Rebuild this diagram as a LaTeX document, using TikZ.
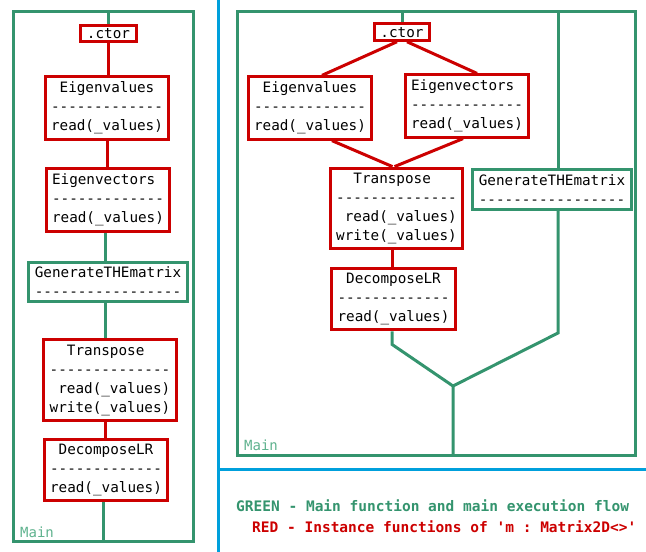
\documentclass[tikz,border=0pt]{standalone}
\usepackage{fontspec}
\setmonofont{DejaVu Sans Mono}
\usepackage{tikz}
\usetikzlibrary{positioning,calc}
\definecolor{flowgreen}{RGB}{52,148,110}
\definecolor{labelgreen}{RGB}{95,178,142}
\definecolor{instred}{RGB}{204,0,0}
\definecolor{splitblue}{RGB}{0,160,220}
\newcommand{\boxfont}{\ttfamily\fontsize{14.3}{19}\selectfont}
\newcommand{\blank}{\hphantom{x}}
\tikzset{
  fn/.style={line width=3pt,fill=white,inner xsep=6pt,inner ysep=5pt,align=left,font=\boxfont},
  redfn/.style={fn,draw=instred},
  greenfn/.style={fn,draw=flowgreen},
  ctorfn/.style={redfn,inner ysep=3pt,text height=10.5pt,text depth=0pt},
  redflow/.style={draw=instred,line width=3pt},
  greenflow/.style={draw=flowgreen,line width=3pt}
}

\begin{document}
\begin{tikzpicture}[x=1pt,y=-1pt]
        \useasboundingbox (0,0) rectangle (646,552);
        % panels
        \draw[splitblue,line width=3pt] (218,0) -- (218,552);
        \draw[splitblue,line width=3pt] (218,469) -- (646,469);
        \draw[greenflow] (13.5,11.5) rectangle (193.5,541.5);
        \draw[greenflow] (237.5,11.5) rectangle (635.5,455.5);
        \node[font=\ttfamily\fontsize{14}{16}\selectfont,text=labelgreen,anchor=south west,inner sep=0pt] (lmain) at (20,538) {Main};
        \node[font=\ttfamily\fontsize{14}{16}\selectfont,text=labelgreen,anchor=south west,inner sep=0pt] (rmain) at (244,451) {Main};
        % left: sequential
        \node[ctorfn] (lctor) at (108.5,33.5) {.ctor};
        \node[redfn] (leigval) at (107,108) {\blank Eigenvalues\\-------------\\read(\_values)};
        \node[redfn] (leigvec) at (108,200) {Eigenvectors\\-------------\\read(\_values)};
        \node[greenfn] (lgen) at (108,282) {GenerateTHEmatrix\\-----------------};
        \node[redfn] (ltrans) at (110,380) {\blank\blank Transpose\\--------------\\\blank read(\_values)\\write(\_values)};
        \node[redfn] (ldecomp) at (106,470) {\blank DecomposeLR\\-------------\\read(\_values)};
        \coordinate (ltop) at (108.5,11.5);
        \coordinate (lbottom) at (103,541.5);
        \draw[greenflow] (ltop) -- (lctor.north);
        \draw[redflow] (lctor.south) -- (lctor.south |- leigval.north);
        \draw[redflow] (leigval.south) -- (leigval.south |- leigvec.north);
        \draw[greenflow] ([xshift=-3pt]leigvec.south) -- ([xshift=-3pt]leigvec.south |- lgen.north);
        \draw[greenflow] ([xshift=-3pt]lgen.south) -- ([xshift=-3pt]lgen.south |- ltrans.north);
        \draw[redflow] ([xshift=-5pt]ltrans.south) -- ([xshift=-5pt]ltrans.south |- ldecomp.north);
        \draw[greenflow] (lbottom |- ldecomp.south) -- (lbottom);
        % right: parallel
        \node[ctorfn] (rctor) at (402,32) {.ctor};
        \node[redfn] (reigval) at (310,108) {\blank Eigenvalues\\-------------\\read(\_values)};
        \node[redfn] (reigvec) at (467,106) {Eigenvectors\\-------------\\read(\_values)};
        \node[redfn] (rtrans) at (396.5,208.5) {\blank\blank Transpose\\--------------\\\blank read(\_values)\\write(\_values)};
        \node[greenfn] (rgen) at (552,189.5) {GenerateTHEmatrix\\-----------------};
        \node[redfn] (rdecomp) at (393.5,299) {\blank DecomposeLR\\-------------\\read(\_values)};
        \coordinate (rtop) at (402,11.5);
        \coordinate (rsplit) at (558,11.5);
        \coordinate (rjoin) at (453,386);
        \coordinate (rbottom) at (453,455.5);
        \draw[greenflow] (rtop) -- (rctor.north);
        \draw[greenflow] (rsplit) -- (rsplit |- rgen.north);
        \draw[redflow] ([xshift=-5pt]rctor.south) -- ([xshift=12pt]reigval.north);
        \draw[redflow] ([xshift=5pt]rctor.south) -- ([xshift=10pt]reigvec.north);
        \draw[redflow] ([xshift=22pt]reigval.south) -- ([xshift=-4pt]rtrans.north);
        \draw[redflow] ([xshift=-4pt]reigvec.south) -- ([xshift=-2pt]rtrans.north);
        \draw[redflow] ([xshift=-4.5pt]rtrans.south) -- ([xshift=-4.5pt]rtrans.south |- rdecomp.north);
        \draw[greenflow] ([xshift=-1.5pt]rdecomp.south) -- ++(0,13) -- (rjoin) -- (rbottom);
        \draw[greenflow] (rsplit |- rgen.south) -- (558,333) -- (rjoin);
        % legend
        \node[font=\ttfamily\bfseries\fontsize{14.5}{17}\selectfont,text=flowgreen,anchor=west,inner sep=0pt] (glegend) at (236,506) {GREEN - Main function and main execution flow};
        \node[font=\ttfamily\bfseries\fontsize{14.5}{17}\selectfont,text=instred,anchor=west,inner sep=0pt] (rlegend) at (252,527) {RED - Instance functions of 'm : Matrix2D<>'};
      \end{tikzpicture}
\end{document}
